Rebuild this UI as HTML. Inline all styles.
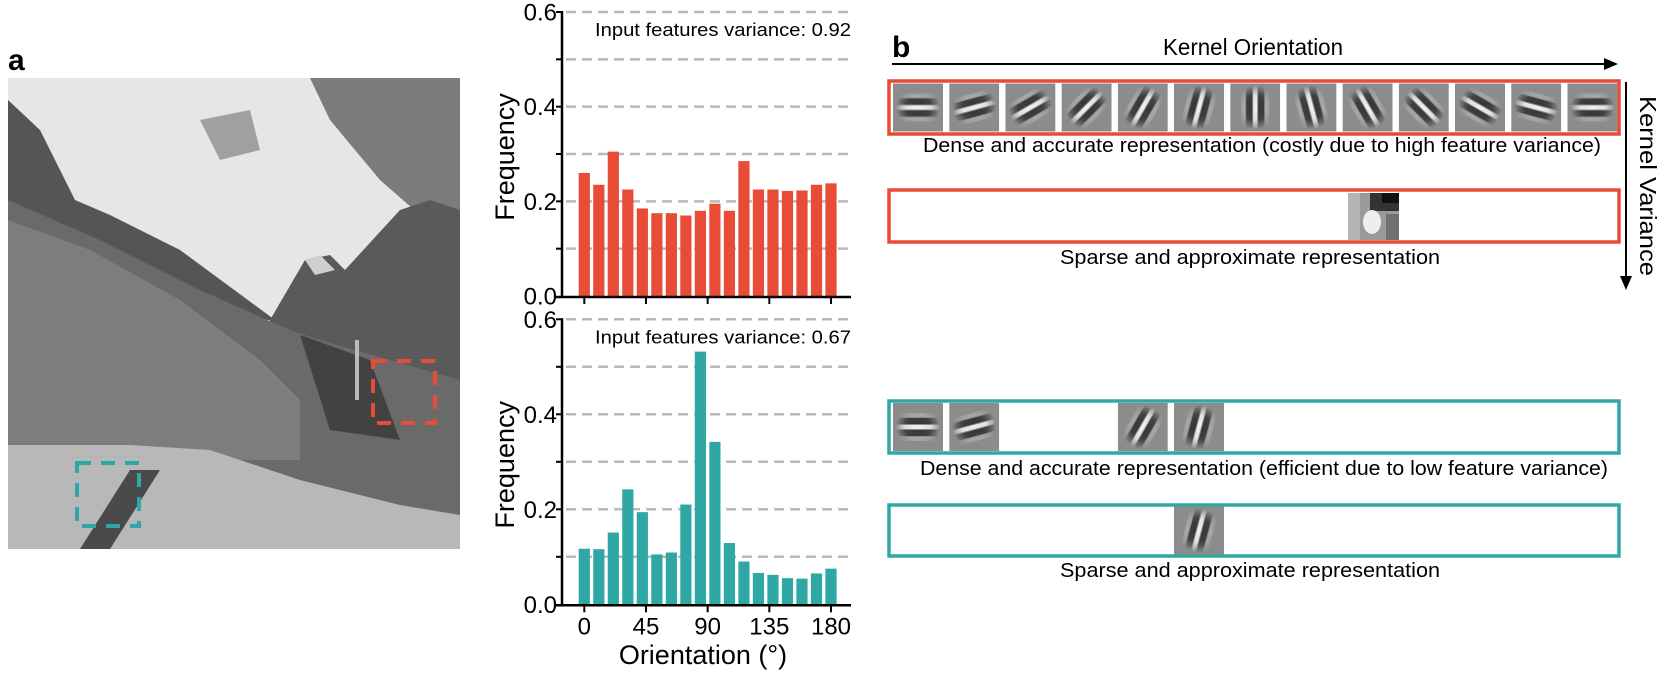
<!DOCTYPE html>
<html><head><meta charset="utf-8">
<style>
html,body{margin:0;padding:0;background:#fff;}
svg{display:block;font-family:"Liberation Sans",sans-serif;}
</style></head>
<body>
<svg id="root" width="1660" height="673" viewBox="0 0 1660 673" xmlns="http://www.w3.org/2000/svg">
<defs>
  <radialGradient id="fadeG" gradientUnits="userSpaceOnUse" cx="0" cy="0" r="22">
    <stop offset="0" stop-color="#fff"/><stop offset="0.55" stop-color="#fff" stop-opacity="0.85"/><stop offset="1" stop-color="#000"/>
  </radialGradient>
  <mask id="fadeM" maskUnits="userSpaceOnUse" x="-40" y="-40" width="80" height="80"><circle cx="0" cy="0" r="30" fill="url(#fadeG)"/></mask>
  <clipPath id="tileClip"><rect x="-25" y="-24" width="50" height="48"/></clipPath>
  <g id="gabor">
    <g mask="url(#fadeM)">
      <rect x="-40" y="-14" width="80" height="4" fill="#ababab"/>
      <rect x="-40" y="-9" width="80" height="6" fill="#333"/>
      <rect x="-40" y="-2" width="80" height="4" fill="#f0f0f0"/>
      <rect x="-40" y="3" width="80" height="6" fill="#333"/>
      <rect x="-40" y="10" width="80" height="4" fill="#ababab"/>
    </g>
  </g>
</defs>

<!-- Panel a photo -->
<text x="8" y="70" font-size="30" font-weight="bold">a</text>
<g>
  <rect x="8" y="78" width="452" height="471" fill="#e6e6e6"/>
  <polygon points="310,78 460,78 460,235 420,215 380,180 330,120" fill="#7c7c7c"/>
  <polygon points="200,120 250,110 260,150 220,160" fill="#a0a0a0"/>
  <polygon points="8,100 40,130 75,200 110,215 180,250 275,320 300,320 8,320" fill="#555"/>
  <polygon points="270,320 305,260 330,255 345,270 400,210 430,200 460,210 460,420 270,420" fill="#5a5a5a"/>
  <polygon points="305,260 320,255 335,270 315,275" fill="#cfcfcf"/>
  <polygon points="8,200 100,240 200,290 290,330 320,340 460,380 460,549 8,549" fill="#6a6a6a"/>
  <polygon points="8,220 90,250 180,300 260,360 300,400 300,460 8,460" fill="#7d7d7d"/>
  <polygon points="8,445 130,445 210,450 300,480 400,505 460,515 460,549 8,549" fill="#b8b8b8"/>
  <polygon points="300,335 370,360 400,440 330,430" fill="#424242"/>
  <rect x="355" y="340" width="4" height="60" fill="#bbb"/>
  <polygon points="80,549 130,470 160,470 110,549" fill="#4a4a4a"/>
  <rect x="373" y="361" width="62" height="62" fill="none" stroke="#e84c36" stroke-width="4" stroke-dasharray="14,10"/>
  <rect x="77" y="463" width="62" height="63" fill="none" stroke="#2fa7a5" stroke-width="4" stroke-dasharray="14,10"/>
</g>

<g id="charts"></g>

<!-- Panel b -->
<text x="892" y="57" font-size="30" font-weight="bold">b</text>
<text x="1253" y="55" font-size="23" text-anchor="middle" textLength="180" lengthAdjust="spacingAndGlyphs">Kernel Orientation</text>
<line x1="892" y1="64" x2="1606" y2="64" stroke="#000" stroke-width="2"/>
<polygon points="1618,64 1604,58 1604,70" fill="#000"/>
<line x1="1626" y1="82" x2="1626" y2="278" stroke="#000" stroke-width="2"/>
<polygon points="1626,290 1620,276 1632,276" fill="#000"/>
<text transform="translate(1640,186) rotate(90)" font-size="23" text-anchor="middle" textLength="180" lengthAdjust="spacingAndGlyphs">Kernel Variance</text>

<rect x="889" y="81" width="730" height="53" fill="none" stroke="#e84c36" stroke-width="3.5"/>
<g id="tilesRed"></g>
<text x="1262" y="152" font-size="20" text-anchor="middle" textLength="678" lengthAdjust="spacingAndGlyphs">Dense and accurate representation (costly due to high feature variance)</text>

<rect x="889" y="190" width="730" height="52" fill="none" stroke="#e84c36" stroke-width="3.5"/>
<g>
  <rect x="1348" y="193" width="51" height="47" fill="#9a9a9a"/>
  <rect x="1348" y="193" width="12" height="47" fill="#b5b5b5"/>
  <rect x="1370" y="193" width="29" height="18" fill="#333"/>
  <rect x="1382" y="193" width="17" height="10" fill="#111"/>
  <ellipse cx="1372" cy="222" rx="9" ry="12" fill="#eeeeee"/>
  <rect x="1386" y="214" width="13" height="26" fill="#707070"/>
</g>
<text x="1250" y="264" font-size="20" text-anchor="middle" textLength="380" lengthAdjust="spacingAndGlyphs">Sparse and approximate representation</text>

<rect x="889" y="401" width="730" height="52" fill="none" stroke="#2fa7a5" stroke-width="3.5"/>
<g id="tilesTeal"></g>
<text x="1264" y="475" font-size="20" text-anchor="middle" textLength="688" lengthAdjust="spacingAndGlyphs">Dense and accurate representation (efficient due to low feature variance)</text>

<rect x="889" y="505" width="730" height="51" fill="none" stroke="#2fa7a5" stroke-width="3.5"/>
<g id="tilesTeal2"></g>
<text x="1250" y="577" font-size="20" text-anchor="middle" textLength="380" lengthAdjust="spacingAndGlyphs">Sparse and approximate representation</text>
</svg>

<script>
const orientations = [0,15,30,45,60,75,90,105,120,135,150,165,180];
const redFreq = [0.26,0.235,0.305,0.225,0.185,0.175,0.175,0.17,0.18,0.195,0.18,0.285,0.225,0.225,0.222,0.223,0.235,0.238];
const tealFreq = [0.117,0.116,0.151,0.242,0.194,0.105,0.109,0.21,0.532,0.342,0.129,0.09,0.066,0.062,0.055,0.054,0.065,0.075];
const yTicks = [0.0,0.2,0.4,0.6];
const xTicks = [0,45,90,135,180];
const varianceLabels = ["Input features variance: 0.92","Input features variance: 0.67"];

const NS = "http://www.w3.org/2000/svg";
function mk(tag, attrs, parent){ const e=document.createElementNS(NS,tag); for(const k in attrs) e.setAttribute(k,attrs[k]); parent.appendChild(e); return e; }
const charts = document.getElementById('charts');
const xScale = a => 584.3 + (a/180)*(831 - 584.3);

function drawChart(vals, color, y0, y6, label, showX, idx){
  const g = mk('g',{},charts);
  
  
  const yS = v => y0 - (v/0.6)*(y0-y6);
  for(let k=1;k<=6;k++){
    const v=k/10;
    const l = mk('line',{x1:566,x2:851,y1:yS(v),y2:yS(v),stroke:'#b9b9b9','stroke-width':2.5,'stroke-dasharray':'10,6'},g);
    
    
    mk('line',{x1:556,x2:563,y1:yS(v),y2:yS(v),stroke:'#000','stroke-width':2},g);
  }
  const n = vals.length;
  vals.forEach((v,i)=>{
    const ang = i*180/(n-1);
    const cx = xScale(ang);
    const b = mk('rect',{x:cx-5.6,y:yS(v),width:11.2,height:y0-yS(v),fill:color},g);
    
    
  });
  mk('line',{x1:562,x2:562,y1:y6-1,y2:y0+1,stroke:'#000','stroke-width':2.5},g);
  mk('line',{x1:556,x2:851,y1:y0+1,y2:y0+1,stroke:'#000','stroke-width':2.5},g);
  yTicks.forEach(t=>{
    const tx = mk('text',{x:557,y:yS(t)+8.5,'font-size':24,'text-anchor':'end'},g);
    tx.textContent = t.toFixed(1);
    
    
  });
  xTicks.forEach(t=>{
    mk('line',{x1:xScale(t),x2:xScale(t),y1:y0+1,y2:y0+8,stroke:'#000','stroke-width':2},g);
    if(showX){
      const tx = mk('text',{x:xScale(t),y:y0+30,'font-size':24,'text-anchor':'middle'},g);
      tx.textContent = t;
      
      
    }
  });
  const yl = mk('text',{transform:`translate(514,${(y0+y6)/2+3}) rotate(-90)`,'font-size':27,'text-anchor':'middle'},g);
  yl.textContent='Frequency';
  
  
  const vl = mk('text',{x:851,y:y6+24,'font-size':18,'text-anchor':'end',textLength:256,lengthAdjust:'spacingAndGlyphs'},g);
  vl.textContent = label;
  
  
  if(showX){
    const xl = mk('text',{x:703,y:664,'font-size':27,'text-anchor':'middle'},g);
    xl.textContent='Orientation (°)';
    
    
  }
}
drawChart(redFreq,'#e84c36',296,12,varianceLabels[0],false,0);
drawChart(tealFreq,'#2fa7a5',604.3,319.3,varianceLabels[1],true,1);

function drawTiles(parentId, indices, yc){
  const p = document.getElementById(parentId);
  indices.forEach(i=>{
    const cx = 893 + i*56.2 + 25;
    const tg = mk('g',{transform:`translate(${cx},${yc})`,'clip-path':'url(#tileClip)'},p);
    
    
    mk('rect',{x:-25,y:-24,width:50,height:48,fill:'#8c8c8c'},tg);
    mk('use',{href:'#gabor',transform:`rotate(${-orientations[i]})`},tg);
  });
}
drawTiles('tilesRed',[0,1,2,3,4,5,6,7,8,9,10,11,12],107.5);
drawTiles('tilesTeal',[0,1,4,5],427);
drawTiles('tilesTeal2',[5],530.5);
</script>
</body></html>
